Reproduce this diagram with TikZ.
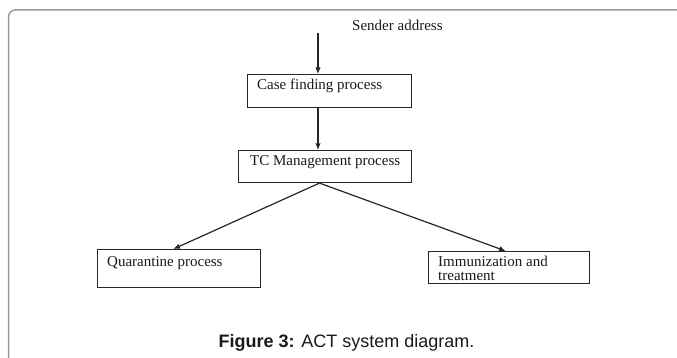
\documentclass[tikz,border=0pt]{standalone}
\usepackage{fontspec}
\setmainfont{Liberation Serif}
\newfontfamily\capfont{Liberation Sans}
\usetikzlibrary{arrows.meta,calc}
\begin{document}
\begin{tikzpicture}[x=1pt,y=-1pt,
  procbox/.style={draw=black!85, line width=1.1pt, anchor=north west, inner sep=0pt},
  lbl/.style={font=\fontsize{15}{14}\selectfont, inner sep=0pt, anchor=base west, text=black!90},
  flow/.style={draw=black!85, line width=1.2pt, -{Latex[length=6.5pt,width=5.5pt]}},
]
\useasboundingbox (0,0) rectangle (677,358);
\clip (0,0) rectangle (677,358);
% frame
\draw[black!40, line width=1.5pt, rounded corners=7pt] (8.5,400) rectangle (720,10);
% boxes
\node[procbox, minimum width=164pt, minimum height=33pt] (case) at (247,74) {};
\node[procbox, minimum width=173pt, minimum height=32pt] (tc) at (238,150) {};
\node[procbox, minimum width=163pt, minimum height=38pt] (quar) at (97,249) {};
\node[procbox, minimum width=161pt, minimum height=32pt, line width=1.4pt] (immu) at (428,251) {};
% texts
\node[lbl] (sender) at (352,31) {Sender address};
\node[lbl] (casetxt) at (257,89.5) {Case finding process};
\node[lbl] (tctxt) at (250,166) {TC Management process};
\node[lbl] (quartxt) at (107,266.7) {Quarantine process};
\node[lbl, align=left, anchor=north west] (immutxt) at (438,255.5) {Immunization and\\treatment};
% connectors
\coordinate (a0) at (318,33.5);
\draw[flow] (a0) -- (a0 |- case.north);
\draw[flow] (case.south -| a0) -- (tc.north -| a0);
\coordinate (split) at ($(tc.south west)!0.468!(tc.south east)$);
\draw[flow] (split) -- ($(quar.north west)!0.466!(quar.north east)$);
\draw[flow] (split) -- ($(immu.north west)!0.478!(immu.north east)$);
% caption
\node[font=\capfont\fontsize{18}{21}\selectfont, anchor=base, inner sep=0pt, text=black!90] (cap) at (346.5,347) {\textbf{Figure 3:} ACT system diagram.};
\end{tikzpicture}
\end{document}
